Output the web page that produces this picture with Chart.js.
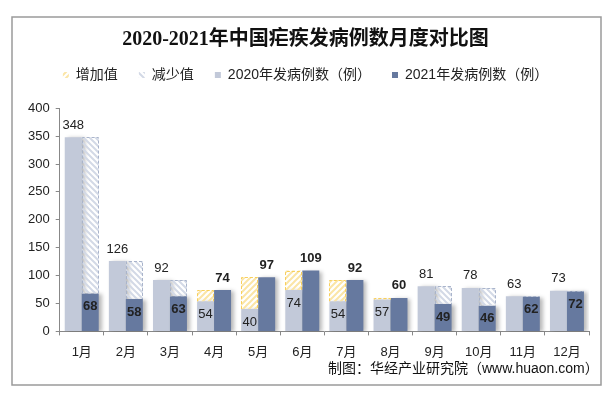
<!DOCTYPE html>
<html>
<head>
<meta charset="utf-8">
<script src="https://cdn.jsdelivr.net/npm/chart.js@4"></script>
<style>
  html, body { margin: 0; padding: 0; background: #fff; }
  #wrap { width: 611px; height: 398px; }
</style>
</head>
<body>
<div id="wrap"><canvas id="chart" width="611" height="398"></canvas></div>
<script>
const months = ["1月", "2月", "3月", "4月", "5月", "6月", "7月", "8月", "9月", "10月", "11月", "12月"];
const cases2020 = [348, 126, 92, 54, 40, 74, 54, 57, 81, 78, 63, 73];
const cases2021 = [68, 58, 63, 74, 97, 109, 92, 60, 49, 46, 62, 72];
const yTicks = [0, 50, 100, 150, 200, 250, 300, 350, 400];

// floating bars for the change between years
const increase = cases2020.map((v, i) => (cases2021[i] > v ? [v, cases2021[i]] : null));
const decrease = cases2020.map((v, i) => (cases2021[i] < v ? [cases2021[i], v] : null));

const SANS = "'Liberation Sans', 'Noto Sans CJK SC', sans-serif";

function hatch(color, dir) {
  const c = document.createElement("canvas");
  c.width = 6;
  c.height = 6;
  const g = c.getContext("2d");
  g.strokeStyle = color;
  g.lineWidth = 2;
  g.beginPath();
  if (dir === "/") {
    g.moveTo(0, 6); g.lineTo(6, 0);
    g.moveTo(-1, 1); g.lineTo(1, -1);
    g.moveTo(5, 7); g.lineTo(7, 5);
  } else {
    g.moveTo(0, 0); g.lineTo(6, 6);
    g.moveTo(-1, 5); g.lineTo(1, 7);
    g.moveTo(5, -1); g.lineTo(7, 1);
  }
  g.stroke();
  return g.createPattern(c, "repeat");
}

const incPattern = hatch("#fbe5a6", "/");
const decPattern = hatch("#d3d9e6", "\\");

const shadowPlugin = {
  id: "barShadow",
  beforeDatasetDraw(chart, args) {
    if (args.index < 2) return;
    const ctx = chart.ctx;
    ctx.save();
    ctx.shadowColor = "rgba(0,0,0,0.28)";
    ctx.shadowBlur = 4;
    ctx.shadowOffsetX = 3;
    ctx.shadowOffsetY = 1;
  },
  afterDatasetDraw(chart, args) {
    if (args.index < 2) return;
    chart.ctx.restore();
  },
};

const labelPlugin = {
  id: "valueLabels",
  afterDatasetsDraw(chart) {
    const ctx = chart.ctx;
    ctx.save();
    // dashed outlines of the change bars
    [[0, "#f8cf5c"], [1, "#a9b4cb"]].forEach(([idx, color]) => {
      const meta = chart.getDatasetMeta(idx);
      ctx.strokeStyle = color;
      ctx.lineWidth = 1;
      ctx.setLineDash([3, 2]);
      meta.data.forEach((el, i) => {
        if (!chart.data.datasets[idx].data[i]) return;
        const p = el.getProps(["x", "y", "base", "width"], true);
        const l = Math.round(p.x - p.width / 2) + 0.5;
        const r = Math.round(p.x + p.width / 2) - 0.5;
        const t = Math.round(Math.min(p.y, p.base)) + 0.5;
        const b = Math.max(p.y, p.base);
        ctx.beginPath();
        ctx.moveTo(l, b);
        ctx.lineTo(l, t);
        ctx.lineTo(r, t);
        ctx.lineTo(r, b);
        ctx.stroke();
      });
    });
    ctx.setLineDash([]);

    ctx.textAlign = "center";
    ctx.textBaseline = "middle";
    ctx.fillStyle = "#222";
    const m20 = chart.getDatasetMeta(2);
    const m21 = chart.getDatasetMeta(3);
    ctx.font = "13px " + SANS;
    cases2020.forEach((v, i) => {
      const el = m20.data[i];
      const up = v > cases2021[i];
      ctx.fillText(String(v), el.x, up ? el.y - 12 : el.y + 13);
    });
    ctx.font = "bold 13px " + SANS;
    cases2021.forEach((v, i) => {
      const el = m21.data[i];
      const up = v > cases2020[i];
      ctx.fillText(String(v), el.x, up ? el.y - 12 : el.y + 13);
    });
    ctx.restore();
  },
  afterDraw(chart) {
    const ctx = chart.ctx;
    ctx.save();
    ctx.strokeStyle = "#9a9a9a";
    ctx.lineWidth = 1.5;
    ctx.strokeRect(12, 17, 589, 368);
    ctx.fillStyle = "#111";
    ctx.font = "14px " + SANS;
    ctx.textAlign = "left";
    ctx.textBaseline = "middle";
    ctx.fillText("制图：华经产业研究院（www.huaon.com）", 328, 369);
    ctx.restore();
  },
};

new Chart(document.getElementById("chart"), {
  type: "bar",
  data: {
    labels: months,
    datasets: [
      {
        label: "增加值",
        data: increase,
        backgroundColor: incPattern,
        stack: "a",
        order: 1,
      },
      {
        label: "减少值",
        data: decrease,
        backgroundColor: decPattern,
        stack: "b",
        order: 2,
      },
      {
        label: "2020年发病例数（例）",
        data: cases2020,
        backgroundColor: "#c2c9d9",
        stack: "a",
        order: 4,
      },
      {
        label: "2021年发病例数（例）",
        data: cases2021,
        backgroundColor: "#66799f",
        stack: "b",
        order: 3,
      },
    ],
  },
  options: {
    responsive: false,
    animation: false,
    categoryPercentage: 0.77,
    barPercentage: 1.0,
    layout: {
      padding: { left: 22, right: 22, top: 18, bottom: 29 },
    },
    scales: {
      x: {
        stacked: true,
        grid: { drawOnChartArea: false, drawTicks: true, tickLength: 4, color: "#888" },
        border: { color: "#888" },
        ticks: { color: "#222", font: { size: 13, family: SANS }, padding: 9 },
      },
      y: {
        stacked: false,
        min: 0,
        max: 400,
        afterBuildTicks: (axis) => {
          axis.ticks = yTicks.map((v) => ({ value: v }));
        },
        grid: { drawOnChartArea: false, drawTicks: true, tickLength: 4, color: "#888" },
        border: { color: "#888" },
        ticks: { color: "#222", font: { size: 13, family: SANS }, padding: 6 },
      },
    },
    plugins: {
      title: {
        display: true,
        text: "2020-2021年中国疟疾发病例数月度对比图",
        color: "#111",
        font: { size: 20, weight: "bold", family: "'Liberation Serif', 'Noto Sans CJK SC', serif" },
        padding: { top: 10, bottom: -5 },
      },
      subtitle: {
        display: true,
        text: "",
        weight: 500,
        font: { size: 1 },
        padding: { top: 15, bottom: 0 },
      },
      legend: {
        position: "top",
        labels: {
          boxWidth: 6,
          boxHeight: 6,
          padding: 21,
          color: "#222",
          font: { size: 14, family: SANS },
          sort: (a, b) => a.datasetIndex - b.datasetIndex,
        },
      },
      tooltip: { enabled: false },
    },
  },
  plugins: [shadowPlugin, labelPlugin],
});
</script>
</body>
</html>
